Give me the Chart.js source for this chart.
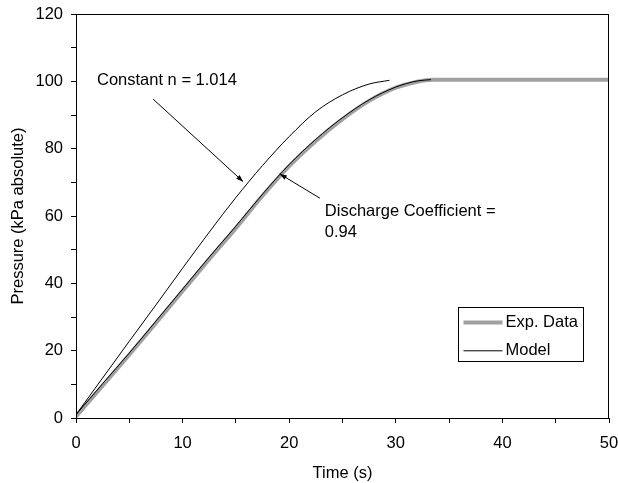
<!DOCTYPE html>
<html>
<head>
<meta charset="utf-8">
<script src="https://cdn.jsdelivr.net/npm/chart.js@4.4.1/dist/chart.umd.min.js"></script>
<style>
html,body{margin:0;padding:0;background:#fff;}
#wrap{width:618px;height:483px;}
</style>
</head>
<body>
<div id="wrap"><canvas id="c" width="618" height="483"></canvas></div>
<script>
// ---- data ----
const expTime   = [0, 2.5, 5, 7.5, 10, 12.5, 15, 17.5, 20, 22.5, 25, 27.5, 30, 32, 33.5, 35, 40, 45, 50];
const expValues = [0.5, 9.6, 18.8, 28.2, 37.7, 47.2, 56.4, 66.0, 74.8, 82.3, 88.8, 94.2, 98.1, 99.9, 100.5, 100.5, 100.5, 100.5, 100.5];

const modelTime   = [0, 2.5, 5, 7.5, 10, 12.5, 15, 17.5, 20, 22.5, 25, 27.5, 30, 32, 33.3];
const modelValues = [1, 10.2, 19.3, 28.8, 38.3, 47.8, 57, 66.5, 75.3, 82.8, 89.2, 94.5, 98.3, 100.1, 100.5];

const constTime   = [0, 2.5, 5, 7.5, 10, 12.5, 15, 17.5, 20, 22.5, 25, 27.5, 29.4];
const constValues = [1, 11.9, 22.8, 33.6, 44.5, 55.2, 65.5, 75, 83.6, 91, 96, 99.2, 100.3];

const xTickLabels = ['0', '10', '20', '30', '40', '50'];
const yTickLabels = ['0', '20', '40', '60', '80', '100', '120'];

const seriesNames = ['Exp. Data', 'Model'];
const annotations = [
  {lines: ['Constant n = 1.014'], tx: 1.97, ty: 100.4, from: [7.24, 94.7], to: [15.68, 70.2]},
  {lines: ['Discharge Coefficient =', '0.94'], tx: 23.34, ty: 61.3, from: [22.87, 65.3], to: [19.12, 72.5]}
];

const toXY = (t, v) => t.map((x, i) => ({x: x, y: v[i]}));
const FONT = 'Liberation Sans, Arial, sans-serif';
const FS = 16.5;

const framePlugin = {
  id: 'frame',
  afterDraw(chart) {
    const ctx = chart.ctx, a = chart.chartArea;
    const xs = chart.scales.x, ys = chart.scales.y;
    ctx.save();
    // frame
    ctx.strokeStyle = '#000';
    ctx.lineWidth = 1;
    ctx.strokeRect(Math.round(a.left) + 0.5, Math.round(a.top) + 0.5, Math.round(a.right - a.left) - 1, Math.round(a.bottom - a.top));
    // annotations
    ctx.fillStyle = '#000';
    ctx.font = FS + 'px ' + FONT;
    ctx.textBaseline = 'middle';
    ctx.textAlign = 'left';
    annotations.forEach(an => {
      const tx = xs.getPixelForValue(an.tx), ty = ys.getPixelForValue(an.ty);
      an.lines.forEach((ln, i) => ctx.fillText(ln, tx, ty + i * 21));
      const x1 = xs.getPixelForValue(an.from[0]), y1 = ys.getPixelForValue(an.from[1]);
      const x2 = xs.getPixelForValue(an.to[0]), y2 = ys.getPixelForValue(an.to[1]);
      ctx.beginPath(); ctx.moveTo(x1, y1); ctx.lineTo(x2, y2); ctx.lineWidth = 1; ctx.stroke();
      const ang = Math.atan2(y2 - y1, x2 - x1), L = 7, W = 2.5;
      ctx.beginPath();
      ctx.moveTo(x2, y2);
      ctx.lineTo(x2 - L * Math.cos(ang) + W * Math.sin(ang), y2 - L * Math.sin(ang) - W * Math.cos(ang));
      ctx.lineTo(x2 - L * Math.cos(ang) - W * Math.sin(ang), y2 - L * Math.sin(ang) + W * Math.cos(ang));
      ctx.closePath(); ctx.fill();
    });
    // legend
    const bx = Math.round(a.right - 151) + 0.5, by = Math.round(a.bottom - 111) + 0.5;
    const bw = 125, bh = 54;
    ctx.strokeStyle = '#000'; ctx.lineWidth = 1;
    ctx.strokeRect(bx, by, bw, bh);
    const sw = [{c: '#a0a0a0', w: 4}, {c: '#000', w: 1}];
    seriesNames.forEach((n, i) => {
      const yy = by + 15 + i * 28.3;
      ctx.beginPath(); ctx.strokeStyle = sw[i].c; ctx.lineWidth = sw[i].w; ctx.lineCap = 'butt';
      ctx.moveTo(bx + 5, yy); ctx.lineTo(bx + 44, yy); ctx.stroke();
      ctx.fillStyle = '#000';
      ctx.fillText(n, bx + 47, yy);
    });
    ctx.restore();
  }
};

new Chart(document.getElementById('c'), {
  type: 'line',
  data: {
    datasets: [
      {label: 'Model', data: toXY(modelTime, modelValues), borderColor: '#000', borderWidth: 1, pointRadius: 0, cubicInterpolationMode: 'monotone', fill: false},
      {label: 'Constant n', data: toXY(constTime, constValues), borderColor: '#000', borderWidth: 1, pointRadius: 0, cubicInterpolationMode: 'monotone', fill: false},
      {label: 'Exp. Data', data: toXY(expTime, expValues), borderColor: '#a0a0a0', borderWidth: 4, pointRadius: 0, cubicInterpolationMode: 'monotone', fill: false}
    ]
  },
  options: {
    responsive: false,
    animation: false,
    devicePixelRatio: 1,
    layout: {padding: {left: 0, right: 9, top: 14, bottom: 0}},
    plugins: {legend: {display: false}, tooltip: {enabled: false}},
    scales: {
      x: {
        type: 'linear', min: 0, max: 50,
        afterFit(s) { s.height = 65; s.paddingLeft = 0; s.paddingRight = 0; },
        border: {display: true, color: '#000', width: 1},
        grid: {display: true, drawOnChartArea: false, drawTicks: true, tickLength: 5, color: '#000'},
        ticks: {stepSize: 5, padding: 11, color: '#000', font: {family: FONT, size: FS}, maxRotation: 0, autoSkip: false,
          callback: v => xTickLabels.includes(String(v)) ? String(v) : ''},
        title: {display: true, text: 'Time (s)', color: '#000', font: {family: FONT, size: FS}, padding: {top: 4, bottom: 0}}
      },
      y: {
        type: 'linear', min: 0, max: 120,
        afterFit(s) { s.width = 76; s.paddingTop = 0; s.paddingBottom = 0; },
        border: {display: true, color: '#000', width: 1},
        grid: {display: true, drawOnChartArea: false, drawTicks: true, tickLength: 5, color: '#000'},
        ticks: {stepSize: 10, padding: 8, color: '#000', font: {family: FONT, size: FS}, autoSkip: false,
          callback: v => yTickLabels.includes(String(v)) ? String(v) : ''},
        title: {display: true, text: 'Pressure (kPa absolute)', color: '#000', font: {family: FONT, size: FS}, padding: {top: 9, bottom: 0}}
      }
    }
  },
  plugins: [framePlugin]
});
</script>
</body>
</html>
